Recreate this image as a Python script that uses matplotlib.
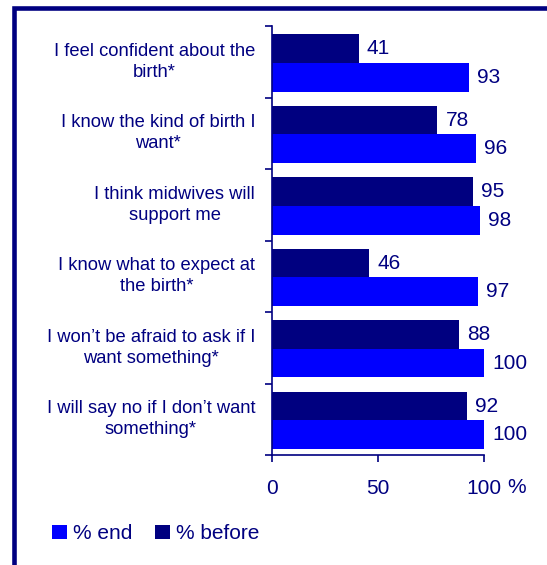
import matplotlib
matplotlib.use('Agg')
import matplotlib.pyplot as plt
from matplotlib.patches import Rectangle
import numpy as np

plt.rcParams['font.family'] = ['Liberation Sans', 'DejaVu Sans']

# Survey statements and percentages agreeing
statements = ['I feel confident about the\nbirth*',
              'I know the kind of birth I\nwant*',
              'I think midwives will\nsupport me',
              'I know what to expect at\nthe birth*',
              'I won\u2019t be afraid to ask if I\nwant something*',
              'I will say no if I don\u2019t want\nsomething*']
before = [41, 78, 95, 46, 88, 92]
end = [93, 96, 98, 97, 100, 100]

navy = '#000080'
blue = '#0000FF'

fig = plt.figure(figsize=(5.47, 5.65), dpi=100)
ax = fig.add_axes([0.497, 0.1947, 0.388, 0.759])

# outer frame on left and top
fig.patches.append(Rectangle((0.0265, -0.1), 1.2, 0.985 + 0.1, transform=fig.transFigure,
                             fill=False, edgecolor=navy, linewidth=3.3))

y = np.arange(len(statements))
h = 0.4
b1 = ax.barh(y - 0.185, before, height=h, color=navy, label='% before')
b2 = ax.barh(y + 0.215, end, height=h, color=blue, label='% end')

for rects, vals in ((b1, before), (b2, end)):
    for r, v in zip(rects, vals):
        ax.annotate(str(v), (v, r.get_y() + r.get_height() / 2), xytext=(8, 0),
                    textcoords='offset pixels', va='center', ha='left',
                    fontsize=15, color=navy)

ax.set_xlim(0, 100)
ax.set_ylim(len(statements) - 0.5, -0.5)

# category boundaries as major ticks, labels on minor ticks
ax.set_yticks(np.arange(len(statements) + 1) - 0.5)
ax.set_yticklabels([])
ax.set_yticks(y - 0.055, minor=True)
ax.set_yticklabels(statements, minor=True, fontsize=13.2, color=navy,
                   multialignment='center', linespacing=1.3)
ax.tick_params(axis='y', which='minor', length=0, pad=12)
ax.tick_params(axis='y', which='major', length=5, width=1.2, color=navy, direction='out')

ax.set_xticks([0, 50, 100])
ax.set_xticklabels(['0', '50', '100'], fontsize=15, color=navy)
ax.tick_params(axis='x', length=5, width=1.2, color=navy, direction='out', pad=12)
# unit sign next to the last tick label
ax.annotate('%', (100, len(statements) - 0.5), xytext=(32, -33),
            textcoords='offset pixels', ha='center', va='center',
            fontsize=15, color=navy)

for s in ['top', 'right']:
    ax.spines[s].set_visible(False)
for s in ['left', 'bottom']:
    ax.spines[s].set_color(navy)
    ax.spines[s].set_linewidth(1.2)

leg = fig.legend(handles=[b2, b1], labels=['% end', '% before'], loc='lower left',
                 bbox_to_anchor=(0.08, 0.024), ncol=2, frameon=False, fontsize=15,
                 handlelength=0.7, handleheight=0.7, handletextpad=0.3,
                 columnspacing=1.1, borderaxespad=0)
for t in leg.get_texts():
    t.set_color(navy)

fig.savefig('out.png', dpi=100)
